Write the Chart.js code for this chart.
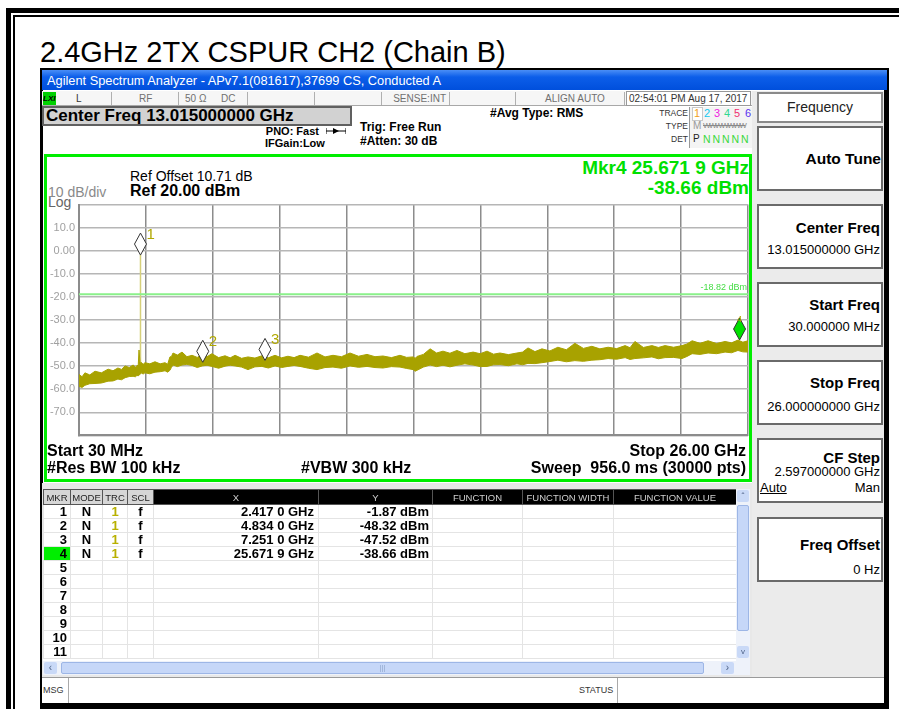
<!DOCTYPE html>
<html>
<head>
<meta charset="utf-8">
<title>2.4GHz 2TX CSPUR CH2 (Chain B)</title>
<script src="https://cdn.jsdelivr.net/npm/chart.js@4.4.1/dist/chart.umd.min.js"></script>
<style>
html, body { margin: 0; padding: 0; background: #fff; }
#page { position: relative; width: 899px; height: 709px; overflow: hidden; font-family: "Liberation Sans", Arial, sans-serif; color: #000; }
.a { position: absolute; white-space: nowrap; }
.r { text-align: right; }
.c { text-align: center; }
.b { font-weight: bold; }
.vdiv { position: absolute; top: 92px; width: 1px; height: 13px; background: #b0b0b0; }
.stat { font-size: 10px; line-height: 14px; top: 92px; color: #707070; }
.soft { position: absolute; left: 757px; width: 126px; box-sizing: border-box; background: #fff; border: 2px solid #6a6a6a; }
.skey { font-weight: bold; font-size: 15px; line-height: 18px; }
.sval { font-size: 13px; line-height: 16px; }
#mkrTable { position: absolute; left: 43px; top: 489px; width: 693px; border-collapse: collapse; table-layout: fixed; }
#mkrTable th { height: 14px; padding: 0; font-weight: normal; font-size: 9.5px; line-height: 13px; border: 1px solid #555; }
#mkrTable th.lt { background: #d6d6d6; color: #222; }
#mkrTable th.dk { background: #000; color: #cfcfcf; }
#mkrTable td { height: 13px; padding: 0; font-weight: bold; font-size: 13px; line-height: 13px; border: 1px solid #e4e4e4; }
</style>
</head>
<body>
<div id="page">
  <!-- outer frame -->
  <div class="a" style="left:6px;top:8px;width:900px;height:710px;border-left:5px solid #000;border-top:5px solid #000;"></div>
  <div class="a" style="left:13px;top:15px;width:900px;height:710px;border-left:2px solid #000;border-top:2px solid #000;"></div>
  <div class="a" style="left:40px;top:37px;font-size:29px;line-height:30px;">2.4GHz 2TX CSPUR CH2 (Chain B)</div>

  <!-- analyzer window -->
  <div class="a" style="left:40px;top:68px;width:849px;height:641px;background:#000;"></div>
  <div class="a" style="left:43px;top:70px;width:841px;height:633px;background:#fff;"></div>
  <div class="a" style="left:42px;top:70px;width:845px;height:20px;background:linear-gradient(#4a8ef6,#0c5ee9 35%,#004fdc);"></div>
  <div class="a" style="left:47px;top:72px;font-size:12.8px;line-height:17px;color:#fff;">Agilent Spectrum Analyzer - APv7.1(081617),37699 CS, Conducted A</div>

  <!-- status row -->
  <div class="a" style="left:42px;top:91px;width:710px;height:15px;background:#f6f6f6;border-bottom:1px solid #a8a8a8;box-sizing:border-box;"></div>
  <div class="a b" style="left:43px;top:92px;width:13px;height:13px;background:#00d000;font-size:8px;line-height:13px;font-style:italic;">LXI</div>
  <div class="a stat" style="left:76px;color:#333;">L</div>
  <div class="a stat" style="left:139px;">RF</div>
  <div class="a stat" style="left:185px;">50 Ω</div>
  <div class="a stat" style="left:221px;">DC</div>
  <div class="a stat r" style="left:380px;width:66px;">SENSE:INT</div>
  <div class="a stat" style="left:545px;">ALIGN AUTO</div>
  <div class="vdiv" style="left:111px;"></div>
  <div class="vdiv" style="left:178px;"></div>
  <div class="vdiv" style="left:247px;"></div>
  <div class="vdiv" style="left:314px;"></div>
  <div class="vdiv" style="left:381px;"></div>
  <div class="vdiv" style="left:449px;"></div>
  <div class="vdiv" style="left:515px;"></div>
  <div class="vdiv" style="left:624px;"></div>
  <div class="a" style="left:626px;top:91px;width:125px;height:15px;box-sizing:border-box;border:1px solid #999;background:#fff;font-size:10px;line-height:13px;color:#333;padding-left:2px;">02:54:01 PM Aug 17, 2017</div>

  <!-- settings header -->
  <div class="a b" style="left:42px;top:106px;width:310px;height:20px;box-sizing:border-box;background:#d2d2d2;border:2px solid #606060;font-size:17px;line-height:16px;padding-left:2px;">Center Freq 13.015000000 GHz</div>
  <div class="a b r" style="left:250px;top:124px;width:69px;font-size:11px;line-height:14px;">PNO: Fast</div>
  <svg class="a" style="left:326px;top:127px;" width="20" height="8"><line x1="0" y1="4" x2="20" y2="4" stroke="#000" stroke-width="1"/><line x1="0" y1="1" x2="0" y2="7" stroke="#000"/><line x1="20" y1="1" x2="20" y2="7" stroke="#000"/><path d="M7 1 L13 4 L7 7 Z" fill="#000"/></svg>
  <div class="a b" style="left:265px;top:136px;font-size:11px;line-height:14px;">IFGain:Low</div>
  <div class="a b" style="left:360px;top:120px;font-size:12px;line-height:14px;">Trig: Free Run</div>
  <div class="a b" style="left:360px;top:134px;font-size:12px;line-height:14px;">#Atten: 30 dB</div>
  <div class="a b" style="left:490px;top:106px;font-size:12px;line-height:14px;">#Avg Type: RMS</div>
  <div class="a r" style="left:640px;top:107px;width:48px;font-size:8.5px;line-height:12px;color:#333;">TRACE</div>
  <div class="a r" style="left:640px;top:120px;width:48px;font-size:8.5px;line-height:12px;color:#333;">TYPE</div>
  <div class="a r" style="left:640px;top:133px;width:48px;font-size:8.5px;line-height:12px;color:#333;">DET</div>
  <div class="a" style="left:689px;top:107px;width:62px;height:41px;background:#f4f4f4;border-left:1px solid #999;"></div>
  <div class="a" style="left:692px;top:107px;width:9px;height:12px;border:1px solid #c8c8c8;background:#fff;"></div>
  <div class="a" style="left:694px;top:107px;font-size:11px;line-height:13px;color:#f0a020;">1</div>
  <div class="a" style="left:704px;top:107px;font-size:11px;line-height:13px;color:#10c8f0;">2</div>
  <div class="a" style="left:714px;top:107px;font-size:11px;line-height:13px;color:#f020e0;">3</div>
  <div class="a" style="left:724px;top:107px;font-size:11px;line-height:13px;color:#30d890;">4</div>
  <div class="a" style="left:734px;top:107px;font-size:11px;line-height:13px;color:#f03070;">5</div>
  <div class="a" style="left:745px;top:107px;font-size:11px;line-height:13px;color:#5a30f0;">6</div>
  <div class="a" style="left:693px;top:120px;font-size:10px;line-height:12px;color:#999;">M</div>
  <div class="a" style="left:703px;top:121px;font-size:8px;line-height:10px;color:#888;letter-spacing:-1.5px;text-decoration:line-through;">WWWWWWW</div>
  <div class="a" style="left:693px;top:133px;font-size:10px;line-height:12px;color:#222;">P</div>
  <div class="a" style="left:703px;top:133px;font-size:10.5px;line-height:12px;color:#3ad83a;word-spacing:-1px;">N N N N N</div>

  <!-- graph frame -->
  <div class="a" style="left:44px;top:154px;width:708px;height:328px;box-sizing:border-box;border:3px solid #00ee00;background:#fff;"></div>
  <div class="a" style="left:130px;top:168px;font-size:14px;line-height:16px;">Ref Offset 10.71 dB</div>
  <div class="a b" style="left:130px;top:182px;font-size:16px;line-height:18px;">Ref 20.00 dBm</div>
  <div class="a" style="left:48px;top:184px;font-size:14px;line-height:16px;color:#8a8a8a;">10 dB/div</div>
  <div class="a" style="left:48px;top:194px;font-size:14px;line-height:16px;color:#666;">Log</div>
  <div class="a b r" id="mkrFreqText" style="left:450px;top:157px;width:299px;font-size:19px;line-height:21px;color:#00e000;"></div>
  <div class="a b r" id="mkrLevelText" style="left:450px;top:177px;width:299px;font-size:19px;line-height:21px;color:#00e000;"></div>
  <canvas id="spectrum" class="a" style="left:46px;top:194px;width:704px;height:252px;" width="704" height="252"></canvas>
  <div class="a b" style="left:47px;top:442px;font-size:16px;line-height:18px;">Start 30 MHz</div>
  <div class="a b r" style="left:550px;top:442px;width:196px;font-size:16px;line-height:18px;">Stop 26.00 GHz</div>
  <div class="a b" style="left:47px;top:459px;font-size:16px;line-height:18px;">#Res BW 100 kHz</div>
  <div class="a b" style="left:301px;top:459px;font-size:16px;line-height:18px;">#VBW 300 kHz</div>
  <div class="a b r" style="left:480px;top:459px;width:266px;font-size:16px;line-height:18px;white-space:pre;">Sweep  956.0 ms (30000 pts)</div>

  <!-- marker table -->
  <div class="a" style="left:42px;top:483px;width:710px;height:194px;background:#e8e8e8;"></div>
  <div class="a" style="left:43px;top:489px;width:693px;height:172px;background:#fff;"></div>
  <table id="mkrTable">
    <colgroup><col style="width:27px"><col style="width:32px"><col style="width:25px"><col style="width:26px"><col style="width:165px"><col style="width:114px"><col style="width:90px"><col style="width:91px"><col style="width:123px"></colgroup>
    <thead><tr>
      <th class="lt">MKR</th><th class="lt">MODE</th><th class="lt">TRC</th><th class="lt">SCL</th>
      <th class="dk">X</th><th class="dk">Y</th><th class="dk">FUNCTION</th><th class="dk">FUNCTION WIDTH</th><th class="dk">FUNCTION VALUE</th>
    </tr></thead>
    <tbody id="mkrRows"></tbody>
  </table>
  <!-- scrollbars -->
  <div class="a" style="left:736px;top:489px;width:14px;height:172px;background:#eef2fa;"></div>
  <div class="a c" style="left:737px;top:490px;width:12px;height:12px;background:#c9d9f7;border-radius:2px;font-size:9px;line-height:12px;color:#4d6185;">&#710;</div>
  <div class="a" style="left:737px;top:505px;width:12px;height:126px;box-sizing:border-box;background:#c6d7f8;border:1px solid #9db6e6;border-radius:2px;"></div>
  <div class="a c" style="left:737px;top:646px;width:12px;height:12px;background:#c9d9f7;border-radius:2px;font-size:8px;line-height:12px;color:#4d6185;">v</div>
  <div class="a" style="left:43px;top:661px;width:707px;height:14px;background:#eef2fa;"></div>
  <div class="a c" style="left:44px;top:662px;width:13px;height:12px;background:#c9d9f7;border-radius:2px;font-size:10px;line-height:12px;color:#4d6185;">&lsaquo;</div>
  <div class="a c" style="left:61px;top:662px;width:643px;height:12px;box-sizing:border-box;background:#c6d7f8;border:1px solid #9db6e6;border-radius:2px;font-size:7px;line-height:10px;color:#8aa0c8;">|||</div>
  <div class="a c" style="left:721px;top:662px;width:13px;height:12px;background:#c9d9f7;border-radius:2px;font-size:10px;line-height:12px;color:#4d6185;">&rsaquo;</div>

  <!-- message bar -->
  <div class="a" style="left:42px;top:677px;width:842px;height:26px;background:#fff;border-top:1px solid #9a9a9a;box-sizing:border-box;"></div>
  <div class="a" style="left:43px;top:684px;font-size:9px;line-height:12px;color:#333;">MSG</div>
  <div class="a" style="left:68px;top:678px;width:1px;height:25px;background:#aaa;"></div>
  <div class="a" style="left:579px;top:684px;font-size:9px;line-height:12px;color:#333;">STATUS</div>
  <div class="a" style="left:617px;top:678px;width:1px;height:25px;background:#aaa;"></div>

  <!-- softkey panel -->
  <div class="a" style="left:752px;top:91px;width:132px;height:586px;background:#ebebeb;"></div>
  <div class="soft" style="top:92px;height:31px;border-color:#8a8a8a;"></div>
  <div class="a c" style="left:757px;top:99px;width:126px;font-size:14px;line-height:16px;color:#222;">Frequency</div>
  <div class="soft" style="top:126px;height:65px;"></div>
  <div class="a r skey" style="left:760px;top:150px;width:121px;font-size:15.5px;">Auto Tune</div>
  <div class="soft" style="top:204px;height:65px;"></div>
  <div class="a r skey" style="left:760px;top:219px;width:120px;">Center Freq</div>
  <div class="a r sval" style="left:760px;top:242px;width:120px;">13.015000000 GHz</div>
  <div class="soft" style="top:282px;height:65px;"></div>
  <div class="a r skey" style="left:760px;top:296px;width:120px;">Start Freq</div>
  <div class="a r sval" style="left:760px;top:319px;width:120px;">30.000000 MHz</div>
  <div class="soft" style="top:360px;height:65px;"></div>
  <div class="a r skey" style="left:760px;top:374px;width:120px;">Stop Freq</div>
  <div class="a r sval" style="left:760px;top:399px;width:120px;">26.000000000 GHz</div>
  <div class="soft" style="top:438px;height:65px;"></div>
  <div class="a r skey" style="left:760px;top:449px;width:120px;">CF Step</div>
  <div class="a r sval" style="left:760px;top:464px;width:120px;">2.597000000 GHz</div>
  <div class="a sval" style="left:760px;top:480px;text-decoration:underline;">Auto</div>
  <div class="a r sval" style="left:800px;top:480px;width:80px;">Man</div>
  <div class="soft" style="top:517px;height:65px;"></div>
  <div class="a r skey" style="left:760px;top:536px;width:120px;">Freq Offset</div>
  <div class="a r sval" style="left:760px;top:562px;width:120px;">0 Hz</div>
</div>

<script>
// Sweep settings (GHz)
const startFreq = 0.03;
const stopFreq = 26.0;
const xDivisions = 10;

// Amplitude axis (dBm)
const yTickValues = [10, 0, -10, -20, -30, -40, -50, -60, -70];
const yTickLabels = ['10.0', '0.00', '-10.0', '-20.0', '-30.0', '-40.0', '-50.0', '-60.0', '-70.0'];

// Trace 1 noise band (upper and lower edge)
const traceFreq = [0.03, 0.15, 0.26, 0.45, 0.65, 0.90, 1.16, 1.35, 1.54, 1.68,
    1.82, 1.98, 2.13, 2.22, 2.28, 2.33, 2.36, 2.40, 2.44, 2.52,
    2.59, 2.78, 2.98, 3.18, 3.37, 3.47, 3.56, 3.62, 3.68, 3.85,
    4.03, 4.22, 4.42, 4.62, 4.81, 5.00, 5.19, 5.45, 5.70, 5.90,
    6.09, 6.34, 6.59, 6.86, 7.13, 7.38, 7.64, 7.89, 8.14, 8.38,
    8.61, 8.94, 9.27, 9.58, 9.89, 10.22, 10.55, 10.88, 11.21, 11.52,
    11.83, 12.16, 12.49, 12.75, 13.00, 13.08, 13.15, 13.40, 13.66, 13.91,
    14.16, 14.43, 14.70, 15.01, 15.33, 15.60, 15.87, 16.12, 16.37, 16.70,
    17.03, 17.25, 17.46, 17.73, 18.00, 18.31, 18.62, 18.95, 19.28, 19.61,
    19.94, 20.25, 20.57, 20.90, 21.23, 21.42, 21.61, 21.94, 22.27, 22.52,
    22.78, 23.11, 23.44, 23.63, 23.83, 24.14, 24.45, 24.78, 25.11, 25.36,
    25.61, 25.80, 26.00];
const traceHi = [-53.6, -54.6, -52.9, -53.8, -52.2, -52.9, -51.3, -52.0, -50.8, -51.4,
    -49.9, -50.6, -49.5, -50.4, -49.8, -49.6, -43.0, -48.8, -48.3, -49.2,
    -48.5, -49.0, -48.1, -49.0, -48.5, -49.2, -46.0, -45.8, -44.3, -45.2,
    -43.9, -45.9, -45.3, -46.2, -45.0, -45.9, -44.6, -46.3, -45.5, -46.4,
    -45.3, -46.6, -46.0, -46.5, -45.5, -46.4, -45.3, -46.4, -45.7, -46.3,
    -45.3, -46.1, -44.3, -46.0, -45.3, -45.9, -44.3, -45.7, -44.9, -45.9,
    -45.6, -46.3, -45.3, -46.2, -46.0, -46.6, -45.8, -44.9, -42.5, -44.3,
    -43.5, -44.4, -43.2, -44.6, -43.9, -44.6, -43.5, -44.8, -44.3, -45.0,
    -44.3, -43.9, -42.1, -43.7, -42.5, -43.4, -41.8, -42.9, -40.1, -42.3,
    -41.4, -42.5, -41.8, -42.4, -41.1, -42.0, -39.3, -41.9, -41.1, -41.9,
    -41.1, -41.8, -41.1, -40.4, -39.0, -40.1, -39.0, -40.2, -39.3, -39.9,
    -38.7, -39.6, -39.0];
const traceLo = [-58.8, -59.2, -58.3, -57.6, -57.5, -57.3, -56.5, -56.4, -55.6, -55.9,
    -55.0, -54.5, -54.4, -54.6, -54.0, -54.2, -53.8, -53.6, -52.9, -53.4,
    -52.9, -53.3, -52.6, -52.4, -52.0, -52.6, -51.8, -50.5, -49.5, -50.2,
    -49.5, -49.2, -49.7, -50.6, -49.9, -49.6, -50.1, -50.9, -50.0, -49.6,
    -49.9, -50.4, -51.5, -50.3, -50.1, -50.8, -49.9, -50.6, -50.1, -49.7,
    -50.1, -50.9, -51.5, -50.6, -50.4, -50.9, -49.9, -50.5, -50.1, -50.6,
    -50.8, -50.2, -50.4, -51.0, -51.5, -52.2, -51.8, -50.4, -49.5, -50.2,
    -49.6, -50.3, -49.6, -49.0, -49.5, -50.2, -50.1, -49.4, -49.3, -49.8,
    -49.0, -49.4, -48.8, -48.9, -48.5, -48.0, -47.4, -48.1, -47.6, -47.9,
    -47.4, -47.2, -46.7, -47.0, -46.3, -47.1, -46.7, -46.4, -46.0, -46.8,
    -46.3, -46.2, -46.7, -45.8, -44.6, -44.9, -44.3, -44.6, -43.9, -44.2,
    -43.2, -43.8, -43.9];

// Carrier spike
const carrierFreq = [2.417, 2.417];
const carrierLevel = [-52.0, -1.87];

// Display line
const displayLineLevel = -18.82;
const displayLineLabel = '-18.82 dBm';

// Markers
const markerFreq = [2.4170, 4.8340, 7.2510, 25.6719];
const markerLevel = [-1.87, -48.32, -47.52, -38.66];
const activeMarker = 3;
const tableRowCount = 11;

const TRACE_COLOR = '#a8a200';

// Format marker frequency like "25.671 9"
function formatMkrFreq(f) {
    const s = f.toFixed(4);
    return s.slice(0, -1) + ' ' + s.slice(-1);
}

// Marker readout and table
function renderMarkerText() {
    document.getElementById('mkrFreqText').textContent =
        `Mkr${activeMarker + 1} ${formatMkrFreq(markerFreq[activeMarker])} GHz`;
    document.getElementById('mkrLevelText').textContent =
        `${markerLevel[activeMarker].toFixed(2)} dBm`;

    let html = '';
    for (let r = 0; r < tableRowCount; r++) {
        const used = r < markerFreq.length;
        const hl = r === activeMarker ? ' style="background:#00ee00"' : '';
        html += `<tr>
            <td class="r"${hl}><span style="padding-right:3px">${r + 1}</span></td>
            <td class="c">${used ? 'N' : ''}</td>
            <td class="c" style="color:#b8b000">${used ? '1' : ''}</td>
            <td class="c">${used ? 'f' : ''}</td>
            <td class="r" style="padding-right:4px">${used ? formatMkrFreq(markerFreq[r]) + ' GHz' : ''}</td>
            <td class="r" style="padding-right:3px">${used ? markerLevel[r].toFixed(2) + ' dBm' : ''}</td>
            <td></td><td></td><td></td>
        </tr>`;
    }
    document.getElementById('mkrRows').innerHTML = html;
}

// Draw marker diamonds and display line label
const markerPlugin = {
    id: 'markers',
    afterDatasetsDraw(chart) {
        const { ctx, chartArea } = chart;
        const x = chart.scales.x;
        const y = chart.scales.y;
        ctx.save();

        ctx.font = '9px "Liberation Sans", Arial, sans-serif';
        ctx.fillStyle = '#44dd44';
        ctx.textAlign = 'right';
        ctx.textBaseline = 'bottom';
        ctx.fillText(displayLineLabel, chartArea.right - 1, y.getPixelForValue(displayLineLevel) - 2);

        markerFreq.forEach((f, i) => {
            const px = x.getPixelForValue(f);
            const py = y.getPixelForValue(markerLevel[i]);
            const w = 6, h = 22;
            ctx.beginPath();
            ctx.moveTo(px, py);
            ctx.lineTo(px + w, py - h / 2);
            ctx.lineTo(px, py - h);
            ctx.lineTo(px - w, py - h / 2);
            ctx.closePath();
            ctx.fillStyle = i === activeMarker ? '#00e000' : '#ffffff';
            ctx.fill();
            ctx.strokeStyle = '#333';
            ctx.lineWidth = 1;
            ctx.stroke();

            ctx.fillStyle = '#b0a800';
            if (px + 16 > chartArea.right) {
                ctx.font = '9px "Liberation Sans", Arial, sans-serif';
                ctx.textAlign = 'center';
                ctx.textBaseline = 'bottom';
                ctx.fillText(String(i + 1), px, py - h + 6);
            } else {
                ctx.font = '15px "Liberation Sans", Arial, sans-serif';
                ctx.textAlign = 'left';
                ctx.textBaseline = 'alphabetic';
                ctx.fillText(String(i + 1), px + 6, py - 16);
            }
        });
        ctx.restore();
    }
};

function renderSpectrum() {
    const ctx = document.getElementById('spectrum').getContext('2d');
    const step = (stopFreq - startFreq) / xDivisions;
    const gridFreq = [];
    for (let i = 0; i <= xDivisions; i++) gridFreq.push(startFreq + i * step);

    new Chart(ctx, {
        type: 'line',
        data: {
            datasets: [
                {
                    label: 'display line',
                    data: [{ x: startFreq, y: displayLineLevel }, { x: stopFreq, y: displayLineLevel }],
                    borderColor: '#8af08a',
                    borderWidth: 2,
                    pointRadius: 0,
                    fill: false
                },
                {
                    label: 'trace hi',
                    data: traceFreq.map((f, i) => ({ x: f, y: traceHi[i] })),
                    borderColor: TRACE_COLOR,
                    borderWidth: 1,
                    pointRadius: 0,
                    tension: 0,
                    fill: false
                },
                {
                    label: 'trace lo',
                    data: traceFreq.map((f, i) => ({ x: f, y: traceLo[i] })),
                    borderColor: TRACE_COLOR,
                    backgroundColor: TRACE_COLOR,
                    borderWidth: 1,
                    pointRadius: 0,
                    tension: 0,
                    fill: '-1'
                },
                {
                    label: 'carrier',
                    data: carrierFreq.map((f, i) => ({ x: f, y: carrierLevel[i] })),
                    borderColor: '#d6d07a',
                    borderWidth: 1.5,
                    pointRadius: 0,
                    fill: false
                }
            ]
        },
        options: {
            responsive: false,
            maintainAspectRatio: false,
            animation: false,
            layout: { padding: { left: 0, right: 2, top: 6, bottom: 6 } },
            plugins: {
                legend: { display: false },
                tooltip: { enabled: false }
            },
            scales: {
                x: {
                    type: 'linear',
                    min: startFreq,
                    max: stopFreq,
                    afterBuildTicks: scale => { scale.ticks = gridFreq.map(v => ({ value: v })); },
                    afterFit: scale => { scale.height = 0; },
                    ticks: { display: false },
                    grid: { color: '#8c8c8c', lineWidth: 1.5, drawTicks: false },
                    border: { color: '#8c8c8c', width: 2 }
                },
                y: {
                    min: -80,
                    max: 20,
                    afterFit: scale => { scale.width = 33; },
                    ticks: {
                        stepSize: 10,
                        padding: 4,
                        color: '#a0a0a0',
                        font: { family: '"Liberation Sans", Arial, sans-serif', size: 11 },
                        callback: v => {
                            const i = yTickValues.indexOf(v);
                            return i >= 0 ? yTickLabels[i] : '';
                        }
                    },
                    grid: { color: '#b6b6b6', lineWidth: 1.5, drawTicks: false },
                    border: { color: '#8c8c8c', width: 2 }
                }
            }
        },
        plugins: [markerPlugin]
    });
}

renderMarkerText();
renderSpectrum();
</script>
</body>
</html>
